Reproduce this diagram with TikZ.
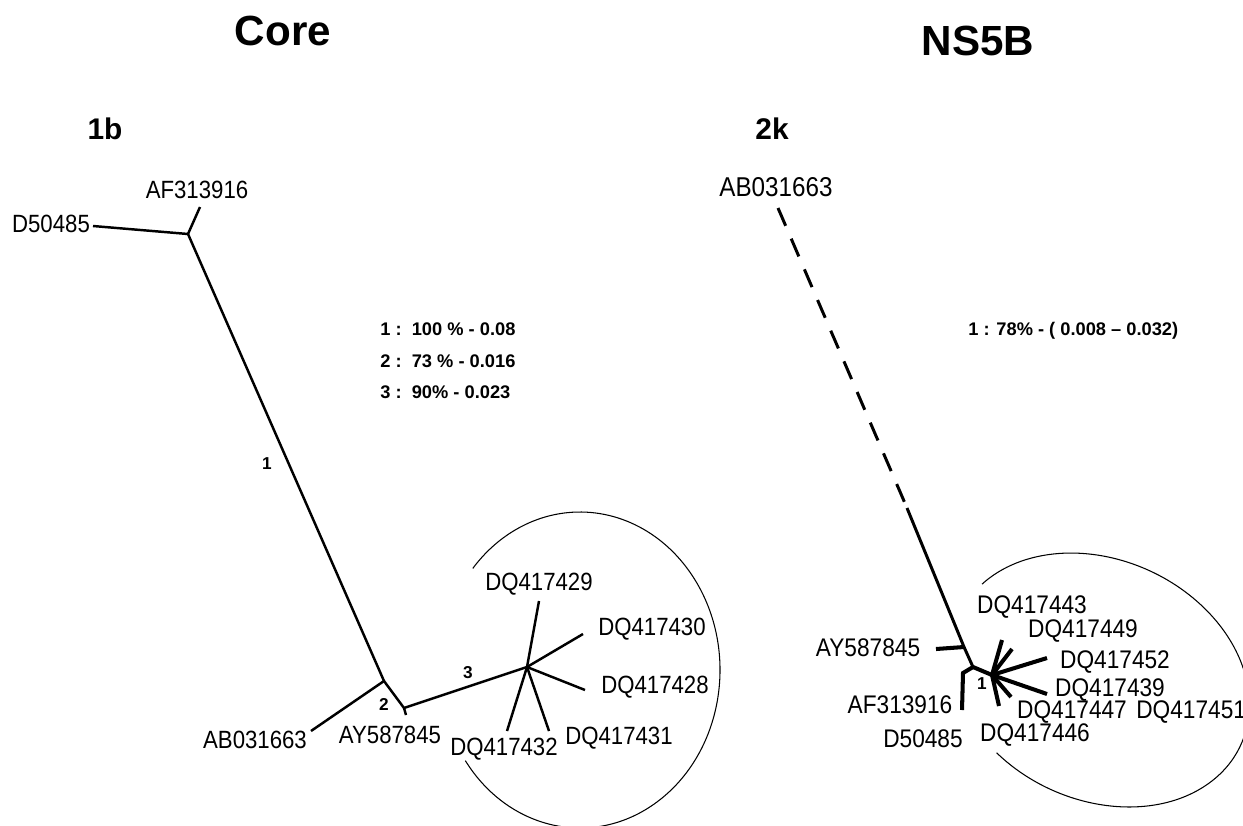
\documentclass[tikz,border=0pt]{standalone}
\usepackage{fontspec}
\setmainfont{Liberation Sans}
\newfontfamily\seqfont[FakeStretch=0.89]{Liberation Sans}
\begin{document}
\begin{tikzpicture}[x=0.02cm, y=-0.02cm,
                    seq/.style={font=\seqfont\fontsize{14.2}{16}\selectfont, inner sep=0pt},
                    seqr/.style={font=\seqfont\fontsize{14.5}{16}\selectfont, inner sep=0pt},
                    brlab/.style={font=\bfseries\fontsize{9.8}{11}\selectfont, inner sep=0pt},
                    stat/.style={font=\bfseries\fontsize{10.4}{12}\selectfont, inner sep=0pt, anchor=west},
                    gene/.style={font=\bfseries\fontsize{24}{28}\selectfont, inner sep=0pt},
                    geno/.style={font=\bfseries\fontsize{17}{20}\selectfont, inner sep=0pt},
                    branch/.style={line width=1.4pt},
                    fatbranch/.style={line width=2.3pt},
                    clade/.style={line width=0.6pt}]
                    \useasboundingbox (0,0) rectangle (1243,825);

                    \node [gene] (core) at (283,31) {Core};
                    \node [gene] (ns5b) at (978,41) {NS5B};
                    \node [geno] (g1b) at (105,129) {1b};
                    \node [geno] (g2k) at (772,129) {2k};

                    % core tree
                    \coordinate (cA) at (188,234);
                    \coordinate (cB) at (384,681);
                    \coordinate (cC) at (404,708);
                    \coordinate (cD) at (527,667);

                    \coordinate (eD50485) at (93,226);
                    \coordinate (eAF313916) at (200,207);
                    \coordinate (eAB031663) at (311,731);
                    \coordinate (eAY587845) at (406,715);
                    \coordinate (e29) at (539,601);
                    \coordinate (e30) at (583,634);
                    \coordinate (e28) at (585,690);
                    \coordinate (e31) at (549,731);
                    \coordinate (e32) at (507,731);

                    \node [seq] (nD50485) at (51,224) {D50485};
                    \node [seq] (nAF313916) at (197,190) {AF313916};
                    \node [seq] (nAB031663) at (255,740) {AB031663};
                    \node [seq] (nAY587845) at (390,735) {AY587845};
                    \node [seq] (n29) at (539,584) {DQ417429};
                    \node [seq] (n30) at (652,629) {DQ417430};
                    \node [seq] (n28) at (655,687) {DQ417428};
                    \node [seq] (n31) at (619,738) {DQ417431};
                    \node [seq] (n32) at (504,749) {DQ417432};

                    \draw [branch] (eD50485) -- (cA) -- (cB) -- (cC) -- (cD);
                    \draw [branch] (eAF313916) -- (cA);
                    \draw [branch] (cB) -- (eAB031663);
                    \draw [branch] (cC) -- (eAY587845);
                    \foreach \e in {29,30,28,31,32}
                        \draw [branch] (cD) -- (e\e);

                    \node [brlab] (b1) at (267,464) {1};
                    \node [brlab] (b2) at (384,704) {2};
                    \node [brlab] (b3) at (468,673) {3};

                    \node [stat] (s1) at (380,329) {1 :\ \ 100 \% - 0.08};
                    \node [stat] (s2) at (380,361) {2 :\ \ 73 \% - 0.016};
                    \node [stat] (s3) at (380,392) {3 :\ \ 90\% - 0.023};

                    \begin{scope}[shift={(580,670)}]
                        \draw [clade] (145:140 and 158) arc [start angle=145, end angle=-140, x radius=140, y radius=158];
                    \end{scope}

                    % ns5b tree
                    \coordinate (rTop) at (778,208);
                    \coordinate (rDash) at (907,508);
                    \coordinate (rM) at (964,647);
                    \coordinate (rP) at (973,667);
                    \coordinate (rR) at (963,673);
                    \coordinate (rQ) at (992,675);

                    \coordinate (fAY587845) at (936,649);
                    \coordinate (fAF313916) at (962,710);
                    \coordinate (f43) at (1002,640);
                    \coordinate (f49) at (1012,649);
                    \coordinate (f52) at (1047,658);
                    \coordinate (f39) at (1047,694);
                    \coordinate (f47) at (1011,697);
                    \coordinate (f46) at (999,706);

                    \node [font=\seqfont\fontsize{15.5}{17}\selectfont, inner sep=0pt] (mAB031663) at (776,187) {AB031663};
                    \node [seqr] (mAY587845) at (868,648) {AY587845};
                    \node [seqr] (mAF313916) at (900,705) {AF313916};
                    \node [seqr] (mD50485) at (923,739) {D50485};
                    \node [seqr] (m43) at (1032,607) {DQ417443};
                    \node [seqr] (m49) at (1083,631) {DQ417449};
                    \node [seqr] (m52) at (1115,662) {DQ417452};
                    \node [seqr] (m39) at (1110,690) {DQ417439};
                    \node [seqr] (m47) at (1072,712) {DQ417447};
                    \node [seqr, anchor=west] (m51) at (1136,712) {DQ417451};
                    \node [seqr] (m46) at (1035,735) {DQ417446};

                    \draw [line width=1.7pt, dash pattern=on 11pt off 8pt] (rTop) -- (rDash);
                    \draw [line width=1.7pt] (rDash) -- (rM) -- (rP);
                    \draw [fatbranch] (fAY587845) -- (rM);
                    \draw [fatbranch] (rP) -- (rR) -- (fAF313916);
                    \draw [fatbranch] (rP) -- (rQ);
                    \foreach \e in {43,49,52,39,47,46}
                        \draw [fatbranch] (rQ) -- (f\e);

                    \node [brlab] (r1) at (982,684) {1};
                    \node [stat] (t1) at (968,331) {1 : 78\% - ( 0.008 -- 0.032)};

                    \begin{scope}[shift={(1100,680)}, rotate=-25]
                        \draw [clade] (114:155 and 120) arc [start angle=114, end angle=-162, x radius=155, y radius=120];
                    \end{scope}
                \end{tikzpicture}
\end{document}
